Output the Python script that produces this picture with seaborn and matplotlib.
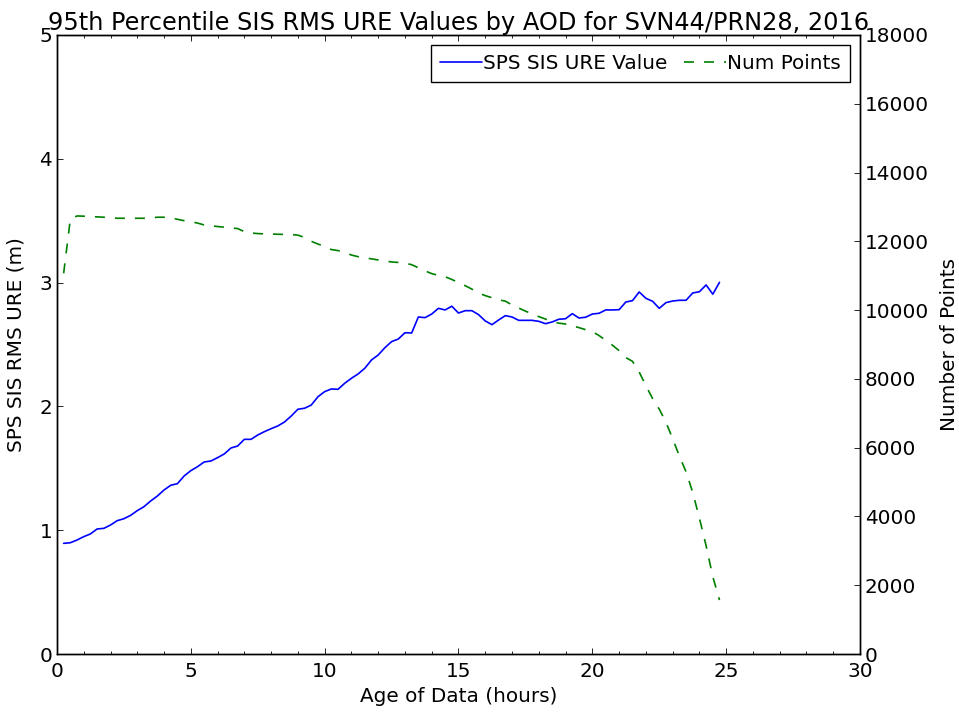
import numpy as np
import pandas as pd
import seaborn as sns
import matplotlib
matplotlib.use('Agg')
import matplotlib.pyplot as plt
from matplotlib.ticker import MultipleLocator

# age of data in hours, every 15 min
aod_hours = [0.25, 0.5, 0.75, 1.0, 1.25, 1.5, 1.75, 2.0, 2.25, 2.5, 2.75, 3.0,
             3.25, 3.5, 3.75, 4.0, 4.25, 4.5, 4.75, 5.0, 5.25, 5.5, 5.75, 6.0,
             6.25, 6.5, 6.75, 7.0, 7.25, 7.5, 7.75, 8.0, 8.25, 8.5, 8.75, 9.0,
             9.25, 9.5, 9.75, 10.0, 10.25, 10.5, 10.75, 11.0, 11.25, 11.5, 11.75, 12.0,
             12.25, 12.5, 12.75, 13.0, 13.25, 13.5, 13.75, 14.0, 14.25, 14.5, 14.75, 15.0,
             15.25, 15.5, 15.75, 16.0, 16.25, 16.5, 16.75, 17.0, 17.25, 17.5, 17.75, 18.0,
             18.25, 18.5, 18.75, 19.0, 19.25, 19.5, 19.75, 20.0, 20.25, 20.5, 20.75, 21.0,
             21.25, 21.5, 21.75, 22.0, 22.25, 22.5, 22.75, 23.0, 23.25, 23.5, 23.75, 24.0,
             24.25, 24.5, 24.75]

# 95th percentile SPS SIS RMS URE (m)
ure_95 = [0.894, 0.899, 0.921, 0.948, 0.970, 1.010, 1.015, 1.042, 1.077, 1.093, 1.120, 1.158,
          1.190, 1.236, 1.276, 1.325, 1.363, 1.376, 1.438, 1.481, 1.513, 1.551, 1.559, 1.586,
          1.616, 1.664, 1.680, 1.734, 1.734, 1.769, 1.796, 1.820, 1.842, 1.874, 1.922, 1.977,
          1.985, 2.011, 2.078, 2.119, 2.141, 2.138, 2.187, 2.227, 2.262, 2.308, 2.375, 2.415,
          2.474, 2.523, 2.544, 2.595, 2.593, 2.722, 2.717, 2.746, 2.792, 2.779, 2.809, 2.754,
          2.773, 2.773, 2.741, 2.690, 2.660, 2.698, 2.733, 2.722, 2.695, 2.695, 2.695, 2.687,
          2.668, 2.682, 2.704, 2.708, 2.749, 2.714, 2.720, 2.746, 2.752, 2.779, 2.779, 2.781,
          2.843, 2.854, 2.924, 2.873, 2.849, 2.792, 2.838, 2.851, 2.857, 2.857, 2.916, 2.926,
          2.981, 2.906, 3.002]

# number of points in each bin
num_points = [11070, 12650, 12737, 12730, 12720, 12710, 12700, 12690, 12670, 12670, 12670, 12670,
              12670, 12680, 12700, 12700, 12680, 12640, 12600, 12570, 12530, 12475, 12450, 12430,
              12410, 12390, 12370, 12280, 12240, 12225, 12215, 12210, 12205, 12200, 12195, 12180,
              12110, 12000, 11920, 11850, 11760, 11730, 11680, 11600, 11553, 11520, 11490, 11458,
              11425, 11400, 11385, 11365, 11320, 11230, 11140, 11060, 11010, 10970, 10890, 10800,
              10710, 10610, 10500, 10420, 10360, 10300, 10260, 10150, 10060, 9970, 9890, 9810,
              9740, 9660, 9620, 9595, 9545, 9490, 9430, 9375, 9260, 9120, 8980, 8820,
              8620, 8510, 8200, 7800, 7430, 7120, 6740, 6260, 5760, 5300, 4700, 3950,
              3150, 2248, 1570]

df = pd.DataFrame({'aod': aod_hours, 'ure': ure_95, 'npts': num_points})

sns.set_theme(style='ticks', rc={'xtick.direction': 'in', 'ytick.direction': 'in',
                                 'axes.linewidth': 1.0, 'axes.edgecolor': 'black',
                                 'text.color': 'black', 'axes.labelcolor': 'black',
                                 'xtick.color': 'black', 'ytick.color': 'black'})
plt.rcParams['font.family'] = ['DejaVu Sans']
plt.rcParams['font.size'] = 14.4

fig = plt.figure(figsize=(9.59, 7.13), dpi=100)
ax1 = fig.add_axes([0.0594, 0.0827, 0.8374, 0.8683])
ax2 = ax1.twinx()

sns.lineplot(data=df, x='aod', y='ure', ax=ax1, color='#0000ff', lw=1.2, legend=False)
sns.lineplot(data=df, x='aod', y='npts', ax=ax2, color='#008000', lw=1.2, legend=False,
             linestyle=(0, (6.0, 6.0)))

ax1.set_xlim(0, 30)
ax1.set_ylim(0, 5)
ax2.set_ylim(0, 18000)
ax1.xaxis.set_major_locator(MultipleLocator(5))
ax1.xaxis.set_minor_locator(MultipleLocator(1))
ax1.yaxis.set_major_locator(MultipleLocator(1))
ax2.yaxis.set_major_locator(MultipleLocator(2000))

ax1.tick_params(axis='x', which='both', top=True, bottom=True, direction='in', labelsize=14.4, pad=6)
ax1.tick_params(axis='x', which='major', length=4.3, width=0.6)
ax1.tick_params(axis='x', which='minor', length=2, width=0.6)
ax1.tick_params(axis='y', left=True, right=False, direction='in', length=4.3, width=0.6, labelsize=14.4)
ax2.tick_params(axis='y', right=True, direction='in', length=4.3, width=0.6, labelsize=14.4)

ax1.set_xlabel('Age of Data (hours)', fontsize=14.4)
ax1.set_ylabel('SPS SIS RMS URE (m)', fontsize=14.4, labelpad=10)
ax2.set_ylabel('Number of Points', fontsize=14.4, labelpad=8)
ax1.set_title('95th Percentile SIS RMS URE Values by AOD for SVN44/PRN28, 2016', fontsize=17.3, pad=3)

for sp in ax2.spines.values():
    sp.set_linewidth(1.0)
    sp.set_color('black')

h = [ax1.get_lines()[0], ax2.get_lines()[0]]
leg = ax2.legend(h, ['SPS SIS URE Value', 'Num Points'], loc='upper right', ncol=2,
                 fontsize=14.4, fancybox=False, shadow=False, framealpha=1,
                 handlelength=2.1, handletextpad=0.05, columnspacing=0.85,
                 borderaxespad=0.5, borderpad=0.45)
leg.get_frame().set_edgecolor('black')
leg.get_frame().set_linewidth(1.0)

fig.savefig('out.png', dpi=100)
